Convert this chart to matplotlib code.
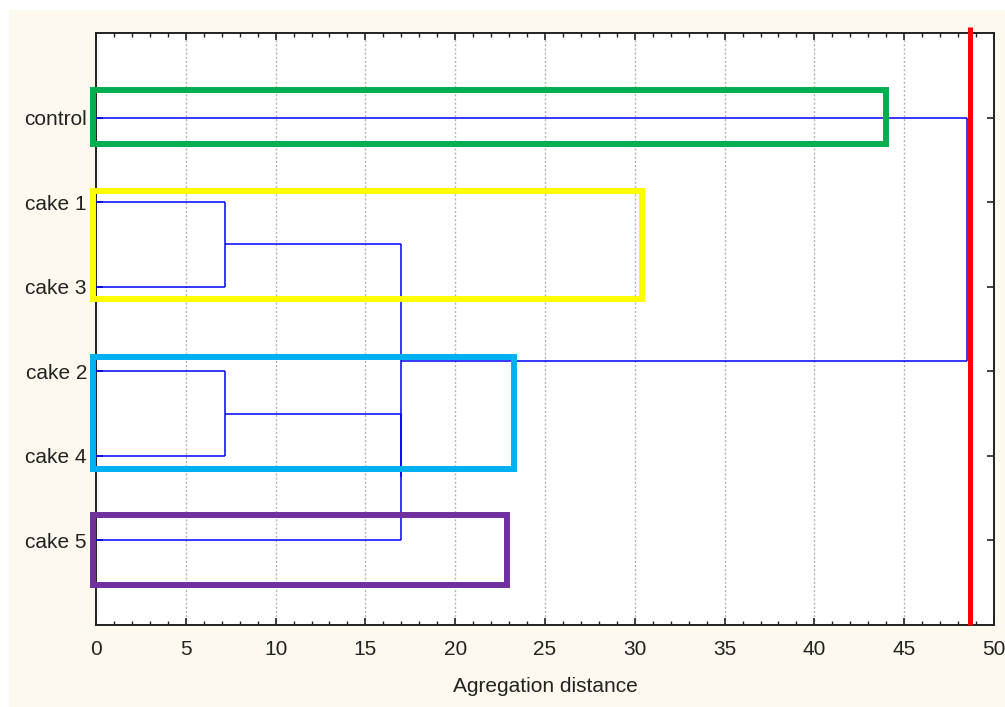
import matplotlib
matplotlib.use("Agg")
import matplotlib.pyplot as plt
from matplotlib.patches import Rectangle
import numpy as np

# ---------------- data ----------------
labels = ["control", "cake 1", "cake 3", "cake 2", "cake 4", "cake 5"]
# linkage: (child_a, child_b, distance); leaves are 0..5, new nodes numbered from 6
merge_a = [1, 3, 7, 6, 0]
merge_b = [2, 4, 5, 8, 9]
merge_dist = [7.2, 7.2, 17.0, 17.0, 48.5]
cut_distance = 48.65
x_ticks = [0, 5, 10, 15, 20, 25, 30, 35, 40, 45, 50]

# highlight boxes: (x0, x1, y0, y1, colour)
box_x0 = [-0.15, -0.15, -0.15, -0.15]
box_x1 = [44.0, 30.4, 23.25, 22.9]
box_y0 = [0.67, 1.87, 3.83, 5.70]
box_y1 = [1.31, 3.14, 5.16, 6.53]
box_col = ["#00b050", "#ffff00", "#00b0f0", "#7030a0"]

# ---------------- figure ----------------
plt.rcParams["font.family"] = ["Liberation Sans", "DejaVu Sans"]
fig = plt.figure(figsize=(10.05, 7.07), dpi=100, facecolor="white")
fig.patches.append(Rectangle((9 / 1005, 0), 1 - 9 / 1005, 1 - 10 / 707,
                             transform=fig.transFigure, facecolor="#fdf9ef",
                             edgecolor="none", zorder=-10))
ax = fig.add_axes([96 / 1005, 1 - 625 / 707, (994 - 96) / 1005, (625 - 33) / 707])
ax.set_facecolor("white")

n = len(labels)
ypos = {i: i + 1 for i in range(n)}
height = {i: 0.0 for i in range(n)}
line_col = "#0000ff"
for k, (a, b, d) in enumerate(zip(merge_a, merge_b, merge_dist)):
    node = n + k
    for c in (a, b):
        ax.plot([height[c], d], [ypos[c], ypos[c]], color=line_col, lw=1.1,
                zorder=3, solid_capstyle="butt")
    ax.plot([d, d], [ypos[a], ypos[b]], color=line_col, lw=1.1, zorder=3,
            solid_capstyle="butt")
    ypos[node] = (ypos[a] + ypos[b]) / 2
    height[node] = d

for x0, x1, y0, y1, c in zip(box_x0, box_x1, box_y0, box_y1, box_col):
    ax.add_patch(Rectangle((x0, y0), x1 - x0, y1 - y0, fill=False,
                           edgecolor=c, lw=4.3, zorder=4, clip_on=False,
                           joinstyle="miter"))

ax.plot([cut_distance, cut_distance], [7.0, -0.07], color="#ff0000", lw=3.6,
        zorder=5, clip_on=False, solid_capstyle="butt")

ax.set_xlim(0, 50)
ax.set_ylim(7, 0)
ax.set_xticks(x_ticks)
ax.set_xticks(np.arange(0, 51, 1), minor=True)
ax.set_yticks(range(1, n + 1))
ax.set_yticklabels(labels)
ax.tick_params(axis="both", which="major", direction="in", length=5, width=1.2,
               top=True, right=True, labelsize=15, colors="#222222")
ax.tick_params(axis="x", which="major", pad=11)
ax.tick_params(axis="x", which="minor", direction="in", length=3, width=1,
               top=True, colors="#222222")
ax.tick_params(axis="y", which="major", pad=6.5)
for s in ax.spines.values():
    s.set_linewidth(1.4)
    s.set_color("#222222")

for xv in x_ticks[1:-1]:
    ax.axvline(xv, color="#b4b4b4", lw=1.0, ls=(0, (1.5, 1.5)), zorder=1)

ax.set_xlabel("Agregation distance", fontsize=15, color="#222222", labelpad=13)

fig.savefig("out.png", dpi=100, facecolor=fig.get_facecolor())
